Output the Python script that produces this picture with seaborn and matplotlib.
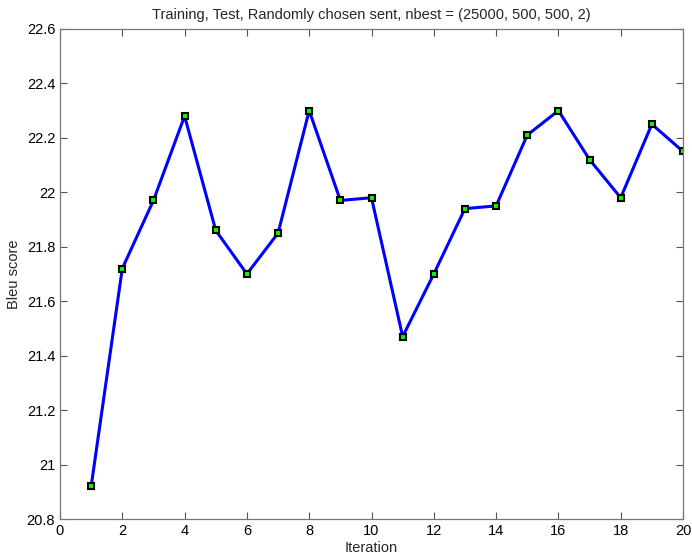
import numpy as np
import pandas as pd
import seaborn as sns
import matplotlib
matplotlib.use('Agg')
import matplotlib.pyplot as plt

iterations = list(range(1, 21))
bleu = [20.92, 21.72, 21.97, 22.28, 21.86, 21.70, 21.85, 22.30, 21.97, 21.98,
        21.47, 21.70, 21.94, 21.95, 22.21, 22.30, 22.12, 21.98, 22.25, 22.15]
x_ticks = list(range(0, 21, 2))
y_ticks = [20.8, 21.0, 21.2, 21.4, 21.6, 21.8, 22.0, 22.2, 22.4, 22.6]
y_labels = ['20.8', '21', '21.2', '21.4', '21.6', '21.8', '22', '22.2', '22.4', '22.6']

sns.set_style('ticks')
plt.rcParams['font.family'] = ['Liberation Sans', 'DejaVu Sans']

df = pd.DataFrame({'Iteration': iterations, 'Bleu score': bleu})

fig = plt.figure(figsize=(6.92, 5.56), dpi=100)
ax = fig.add_axes([0.0867, 0.0665, 0.9003, 0.8815])
sns.lineplot(data=df, x='Iteration', y='Bleu score', ax=ax, color='#0000ff',
             linewidth=2.2, marker='s', markersize=5, markerfacecolor='#00ff00',
             markeredgecolor='black', markeredgewidth=1.5)

ax.set_xlim(0, 20)
ax.set_ylim(20.8, 22.6)
ax.set_xticks(x_ticks)
ax.set_yticks(y_ticks)
ax.set_yticklabels(y_labels)
ax.tick_params(direction='in', top=True, right=True, length=5, width=0.8,
               colors='#555555', labelcolor='black', labelsize=10.5)
for s in ax.spines.values():
    s.set_color('#777777')
    s.set_linewidth(0.9)
ax.set_xlabel('Iteration', fontsize=10.5, labelpad=2)
ax.set_ylabel('Bleu score', fontsize=10.5, labelpad=4)
ax.set_title('Training, Test, Randomly chosen sent, nbest = (25000, 500, 500, 2)',
             fontsize=10.5, pad=7)

fig.savefig('out.png', dpi=100)
